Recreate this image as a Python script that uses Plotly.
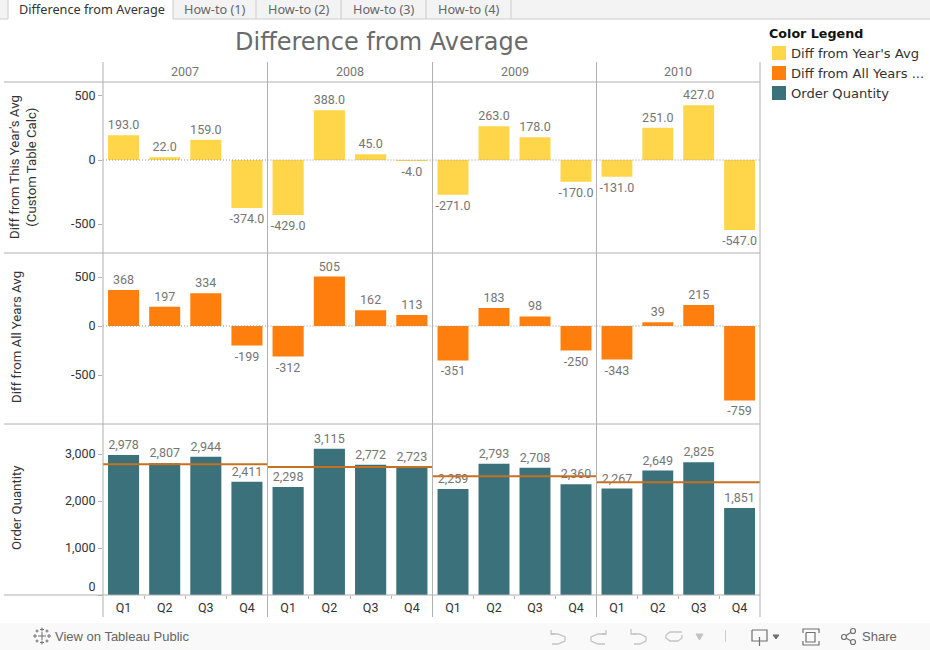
import plotly.graph_objects as go

years = ["2007", "2008", "2009", "2010"]
quarters = ["Q1", "Q2", "Q3", "Q4"]
diff_year = [[193.0, 22.0, 159.0, -374.0], [-429.0, 388.0, 45.0, -4.0],
             [-271.0, 263.0, 178.0, -170.0], [-131.0, 251.0, 427.0, -547.0]]
diff_all = [[368, 197, 334, -199], [-312, 505, 162, 113],
            [-351, 183, 98, -250], [-343, 39, 215, -759]]
order_qty = [[2978, 2807, 2944, 2411], [2298, 3115, 2772, 2723],
             [2259, 2793, 2708, 2360], [2267, 2649, 2825, 1851]]
year_avg = [2785, 2727, 2530, 2398]
legend_names = ["Diff from Year's Avg", "Diff from All Years ...", "Order Quantity"]
tab_names = ["Difference from Average", "How-to (1)", "How-to (2)", "How-to (3)", "How-to (4)"]
row_titles = ["Diff from This Year's Avg<br>(Custom Table Calc)", "Diff from All Years Avg", "Order Quantity"]

W, H = 930, 650
YELLOW, ORANGE, TEAL, REFLINE = "#ffd64a", "#ff7f0e", "#3a717a", "#c8701f"
GRID = "#b0b0b0"
LABEL = "#757575"
TICK = "#333333"
FONT = "Roboto"
colx = [103, 267.5, 432.5, 596.5, 760]
rowy = [82, 253, 424, 595]

def px(x): return x / W
def py(y): return 1 - y / H

rows = [
    dict(data=diff_year, color=YELLOW, tmpl="%{y:.1f}", rng=[-726, 609],
         tv=[-500, 0, 500], tt=["-500", "0", "500"]),
    dict(data=diff_all, color=ORANGE, tmpl="%{y:d}", rng=[-1000, 745],
         tv=[-500, 0, 500], tt=["-500", "0", "500"]),
    dict(data=order_qty, color=TEAL, tmpl="%{y:,d}", rng=[0, 3640],
         tv=[0, 1000, 2000, 3000], tt=["0<br> ", "1,000", "2,000", "3,000"]),
]

fig = go.Figure()
layout = {}
shapes = []
annots = []

def rect(x0, y0, x1, y1, fill, line=None, layer="below"):
    shapes.append(dict(type="rect", xref="paper", yref="paper", x0=px(x0), x1=px(x1),
                       y0=py(y1), y1=py(y0), fillcolor=fill, layer=layer,
                       line=dict(width=1 if line else 0, color=line or fill)))

def hvline(x0, y0, x1, y1, color=GRID, width=1, layer="above"):
    shapes.append(dict(type="line", xref="paper", yref="paper", x0=px(x0), x1=px(x1),
                       y0=py(y0), y1=py(y1), line=dict(color=color, width=width), layer=layer))

def text(x, y, s, size=12, color=TICK, family=FONT, anchor="center", angle=0):
    annots.append(dict(xref="paper", yref="paper", x=px(x), y=py(y), text=s, showarrow=False,
                       xanchor=anchor, yanchor="middle", textangle=angle,
                       font=dict(size=size, color=color, family=family)))

def icon(points, color="#c4c4c4", width=1.3, fill=None):
    d = "M" + " L".join(f"{px(a):.5f},{py(b):.5f}" for a, b in points)
    if fill:
        d += " Z"
    shapes.append(dict(type="path", xref="paper", yref="paper", path=d, fillcolor=fill,
                       line=dict(color=color, width=width), layer="above"))

idx = 0
for r, row in enumerate(rows):
    for c in range(4):
        idx += 1
        sfx = "" if idx == 1 else str(idx)
        fig.add_trace(go.Bar(
            x=list(range(4)), y=row["data"][c], marker=dict(color=row["color"], line=dict(width=0)),
            width=0.755, texttemplate=row["tmpl"], textposition="outside", cliponaxis=False,
            constraintext="none", textfont=dict(family=FONT, size=12.5, color=LABEL),
            showlegend=False, hoverinfo="skip", xaxis="x" + sfx, yaxis="y" + sfx))
        layout["xaxis" + sfx] = dict(
            domain=[px(colx[c]), px(colx[c + 1])], range=[-0.5, 3.5], anchor="y" + sfx,
            automargin=False, showgrid=False, zeroline=False, showline=False,
            tickmode="array", tickvals=[0, 1, 2, 3],
            ticktext=quarters if r == 2 else ["", "", "", ""], ticks="",
            tickfont=dict(family=FONT, size=12.5, color=TICK), ticklabelstandoff=3,
            showticklabels=r == 2,
            minor=dict(tickmode="array", tickvals=[0.5, 1.5, 2.5], ticks="outside" if r == 2 else "",
                       ticklen=3, tickcolor=GRID, tickwidth=1, showgrid=False))
        layout["yaxis" + sfx] = dict(
            domain=[py(rowy[r + 1]), py(rowy[r])], range=row["rng"], anchor="x" + sfx,
            automargin=False, showgrid=False, zeroline=False, showline=False,
            tickmode="array", tickvals=row["tv"], ticktext=row["tt"],
            ticks="outside" if c == 0 else "", ticklen=4, tickcolor=GRID,
            tickfont=dict(family=FONT, size=12.5, color=TICK), showticklabels=c == 0)
        if r < 2:
            shapes.append(dict(type="line", xref=f"x{sfx} domain", yref="y" + sfx, x0=0, x1=1, y0=0, y1=0,
                               line=dict(color="#999999", width=1, dash="1px,2px"), layer="above"))
        else:
            shapes.append(dict(type="line", xref=f"x{sfx} domain", yref="y" + sfx, x0=0, x1=1,
                               y0=year_avg[c], y1=year_avg[c],
                               line=dict(color=REFLINE, width=2), layer="above"))

# frame lines
for x in colx:
    hvline(x, 62, x, 617)
for i, y in enumerate(rowy):
    hvline(4, y, 760, y)

# headers
text(381, 42.5, "Difference from Average", size=24, color="#6a6a6a", family="DejaVu Sans")
for c, yr in enumerate(years):
    text((colx[c] + colx[c + 1]) / 2, 72, yr, size=12.5, color=LABEL)
text(23, 167, row_titles[0], size=13.2, color=TICK, angle=-90)
text(16, 337, row_titles[1], size=13.2, color=TICK, angle=-90)
text(16, 508, row_titles[2], size=13.2, color=TICK, angle=-90)

# legend
text(767, 33, "<b>Color Legend</b>", size=12.7, color="#111111", family="DejaVu Sans", anchor="left")
for i, (name, col) in enumerate(zip(legend_names, [YELLOW, ORANGE, TEAL])):
    y = 53 + i * 20
    rect(772, y - 7, 786, y + 7, col)
    text(789, y, name, size=13.1, color="#333333", family="DejaVu Sans", anchor="left")

# tab bar
rect(0, 0, W, 19, "#f3f3f3")
hvline(0, 19, W, 19, "#cccccc")
rect(8, 0, 173, 20, "#ffffff", layer="above")
hvline(8, 0, 8, 19, "#cccccc")
tab_edges = [173, 256, 341, 426, 511]
hvline(173, 0, 173, 19, "#cccccc")
text(91.5, 9, tab_names[0], size=12.7, color="#333333", family="Noto Sans")
for i, name in enumerate(tab_names[1:]):
    text((tab_edges[i] + tab_edges[i + 1]) / 2, 9, name, size=12.7, color="#666666", family="Noto Sans")
    hvline(tab_edges[i + 1], 0, tab_edges[i + 1], 19, "#cccccc")

# bottom toolbar
rect(0, 623, W, H, "#f9f9f9")
text(53, 636.5, "View on Tableau Public", size=13, color="#666666", family="Liberation Sans", anchor="left")
text(860, 636.5, "Share", size=13, color="#666666", family="Liberation Sans", anchor="left")
# tableau mark
for cx, cy, s in [(42, 636, 4), (35, 636, 2), (49, 636, 2), (42, 629.5, 2), (42, 642.5, 2),
                  (37, 631, 1.5), (47, 631, 1.5), (37, 641, 1.5), (47, 641, 1.5)]:
    icon([(cx - s, cy), (cx + s, cy)], "#707070", 1)
    icon([(cx, cy - s), (cx, cy + s)], "#707070", 1)
# undo / redo / revert / refresh / pause
icon([(551, 630), (551, 634), (555, 634)])
icon([(551, 634), (558, 634), (565, 637), (565, 641), (558, 644), (552, 644)])
icon([(606, 630), (606, 634), (602, 634)])
icon([(606, 634), (598, 634), (591, 637), (591, 641), (598, 644), (605, 644)])
icon([(631, 629), (631, 634), (636, 634)])
icon([(633, 634), (640, 634), (646, 637), (646, 641), (640, 644), (634, 644)])
icon([(682, 632), (670, 632), (666, 635), (666, 638), (670, 641), (678, 641), (682, 638), (682, 635)])
icon([(696, 634), (703, 634), (699.5, 640)], "#c4c4c4", 1, "#c4c4c4")
hvline(725.5, 630, 725.5, 642, "#cccccc")
# download + fullscreen + share icons
icon([(752, 630), (767, 630), (767, 641), (752, 641), (752, 630)], "#707070", 1.2)
icon([(759.5, 637), (759.5, 646)], "#707070", 1.2)
icon([(773, 635), (779, 635), (776, 639)], "#707070", 1, "#707070")
icon([(803, 633), (803, 629), (819, 629), (819, 633)], "#707070", 1.2)
icon([(803, 641), (803, 645), (819, 645), (819, 641)], "#707070", 1.2)
icon([(806, 632.5), (815, 632.5), (815, 642), (806, 642), (806, 632.5)], "#707070", 1.2)
icon([(853, 631), (844, 637), (853, 642)], "#707070", 1.2)
for cx, cy in [(853, 631), (844, 637), (853, 642)]:
    shapes.append(dict(type="circle", xref="paper", yref="paper", x0=px(cx - 2.5), x1=px(cx + 2.5),
                       y0=py(cy + 2.5), y1=py(cy - 2.5), fillcolor="#f9f9f9",
                       line=dict(color="#707070", width=1.2), layer="above"))

fig.update_layout(width=W, height=H, margin=dict(l=0, r=0, t=0, b=0), paper_bgcolor="white",
                  plot_bgcolor="rgba(0,0,0,0)", barmode="overlay", shapes=shapes, annotations=annots,
                  font=dict(family=FONT), **layout)
fig.write_html("out.html", config={"displayModeBar": False},
               post_script="document.body.style.margin='0';document.body.style.overflow='hidden';")
